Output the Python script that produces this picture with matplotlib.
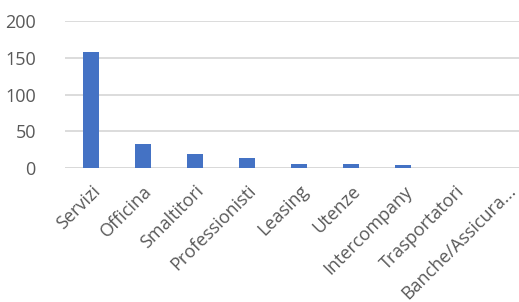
import matplotlib
matplotlib.use("Agg")
import matplotlib.pyplot as plt

categories = ["Servizi", "Officina", "Smaltitori", "Professionisti", "Leasing",
              "Utenze", "Intercompany", "Trasportatori", "Banche/Assicura..."]
values = [158, 33, 19, 14, 6, 5, 4, 0, 0]
yticks = [0, 50, 100, 150, 200]

plt.rcParams['font.family'] = ['Open Sans', 'DejaVu Sans']

W, H = 519, 302
fig = plt.figure(figsize=(W / 100, H / 100), dpi=100)
ax = fig.add_axes([65 / W, (H - 168) / H, (W - 65) / W, 147 / H])

x = list(range(len(categories)))
ax.bar(x, values, width=16 / 52, color="#4472C4", zorder=3)

ax.set_ylim(0, 200)
ax.set_xlim(-0.5, -0.5 + (W - 65) / 52)
ax.set_yticks(yticks)
ax.set_yticklabels([str(v) for v in yticks])
ax.yaxis.grid(True, color="#d9d9d9", linewidth=1.3, zorder=0)
ax.set_axisbelow(True)
for s in ax.spines.values():
    s.set_visible(False)
ax.axhline(0, color="#d9d9d9", linewidth=1.3, zorder=2)
ax.tick_params(axis="y", length=0, pad=21, labelsize=13, labelcolor="#595959")
ax.tick_params(axis="x", length=0, pad=0, labelsize=13, labelcolor="#595959")
ax.set_xticks(x)
ax.set_xticklabels(categories, rotation=45, ha="right", va="top",
                   rotation_mode="anchor")
for lbl in ax.get_xticklabels():
    lbl.set_transform(lbl.get_transform() +
                      matplotlib.transforms.ScaledTranslation(0 / 100, -14 / 100, fig.dpi_scale_trans))

fig.savefig("out.png", dpi=100)
